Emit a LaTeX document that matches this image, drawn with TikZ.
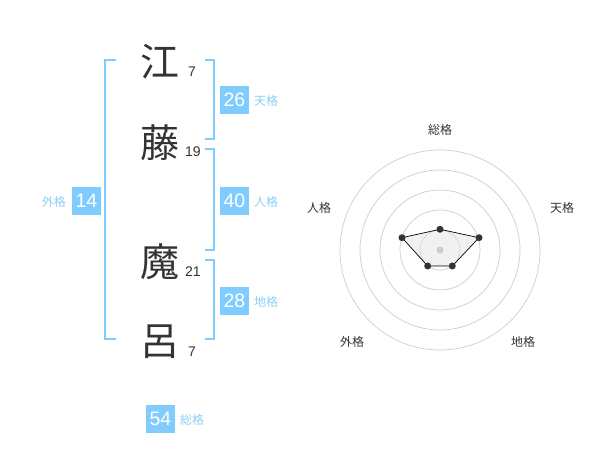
\documentclass[tikz,border=0pt]{standalone}
\usepackage{fontspec}
\setmainfont{Liberation Sans}
\newfontfamily\jp{Noto Sans CJK JP}
\definecolor{brk}{HTML}{80CCFF}
\definecolor{boxc}{HTML}{80CCFF}
\definecolor{lbl}{HTML}{8CCFF5}
\definecolor{darkg}{HTML}{333333}
\definecolor{ring}{HTML}{CCCCCC}
\begin{document}
\begin{tikzpicture}[x=1pt,y=-1pt,
  bracket/.style={draw=brk, line width=2pt},
  numbox/.style={fill=boxc, text=white, minimum width=29pt, minimum height=28pt, inner sep=0pt, font=\fontsize{19.5}{19.5}\selectfont},
  gelabel/.style={text=lbl, font=\jp\fontsize{12}{12}\selectfont, inner sep=0pt},
  kanji/.style={font=\jp\fontsize{39}{39}\selectfont, text=darkg, inner sep=0pt},
  strokes/.style={font=\fontsize{14}{14}\selectfont, text=darkg, inner sep=0pt},
  axlabel/.style={font=\jp\fontsize{12}{12}\selectfont, text=darkg, inner sep=0pt},
  ringc/.style={draw=ring, line width=0.7pt},
  dot/.style={circle, fill=darkg, inner sep=0pt, minimum size=7pt}
]
\useasboundingbox (0,0) rectangle (600,470);

% kanji
\node[kanji] (k1) at (160,62) {江};
\node[kanji] (k2) at (160,143) {藤};
\node[kanji] (k3) at (160,262) {魔};
\node[kanji] (k4) at (160,342) {呂};
\node[strokes] (s1) at (192,72) {7};
\node[strokes] (s2) at (193,152) {19};
\node[strokes] (s3) at (193,272) {21};
\node[strokes] (s4) at (192,352) {7};

% brackets
\draw[bracket] (116,60) -- (105,60) -- (105,339) -- (116,339);
\draw[bracket] (205,60) -- (214,60) -- (214,139) -- (205,139);
\draw[bracket] (205,149) -- (214,149) -- (214,250) -- (205,250);
\draw[bracket] (205,260) -- (214,260) -- (214,339) -- (205,339);

% boxes
\node[numbox] (b26) at (234.5,100) {26};
\node[gelabel, anchor=west] (l26) at (254,101) {天格};
\node[numbox] (b40) at (234.5,201) {40};
\node[gelabel, anchor=west] (l40) at (254,202) {人格};
\node[numbox] (b28) at (234.5,301) {28};
\node[gelabel, anchor=west] (l28) at (254,302) {地格};
\node[numbox] (b14) at (86.5,201) {14};
\node[gelabel, anchor=east] (l14) at (66,202) {外格};
\node[numbox] (b54) at (160.5,419) {54};
\node[gelabel, anchor=west] (l54) at (180,420) {総格};

% radar
\coordinate (c) at (440,250);
\foreach \r in {20,40,60,80,100} \draw[ringc] (c) circle[radius=\r];
\coordinate (pS) at (440,229.3);
\coordinate (pT) at (479,237.7);
\coordinate (pC) at (452.3,266);
\coordinate (pG) at (427.7,266);
\coordinate (pJ) at (402,237.7);
\fill[gray!25, opacity=0.45] (pS) -- (pT) -- (pC) -- (pG) -- (pJ) -- cycle;
\draw[black, line width=0.7pt] (pS) -- (pT) -- (pC) -- (pG) -- (pJ) -- cycle;
\node[circle, fill=ring, inner sep=0pt, minimum size=7pt] (cd) at (c) {};
\foreach \p in {pS,pT,pC,pG,pJ} \node[dot] at (\p) {};
\node[axlabel] (aS) at (440,130) {総格};
\node[axlabel] (aT) at (562,208) {天格};
\node[axlabel] (aC) at (523,342) {地格};
\node[axlabel] (aG) at (352,342) {外格};
\node[axlabel] (aJ) at (319,208) {人格};
\end{tikzpicture}
\end{document}
